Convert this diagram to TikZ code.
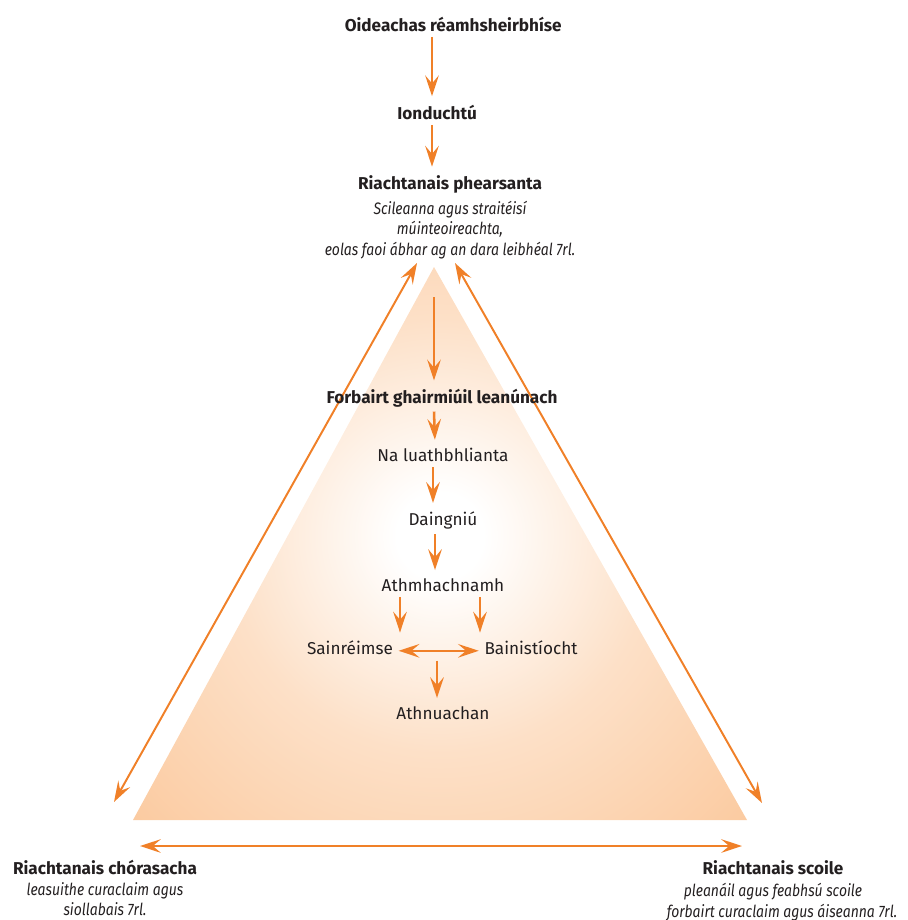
\documentclass[tikz,border=0pt]{standalone}
\usepackage{fontspec}
\setmainfont{Fira Sans}
\newfontfamily\descfont{Fira Sans Italic}[FakeStretch=0.84]
\usetikzlibrary{calc,
arrows.meta,
positioning}
\definecolor{arrorange}{RGB}{240,128,40}
\definecolor{trifill}{RGB}{251,199,154}
\definecolor{txtgray}{RGB}{35,31,32}
\pgfdeclareradialshading{tri glow}{\pgfpoint{0bp}{0bp}}{%
  color(0bp)=(white); color(2bp)=(white);
  color(10bp)=(trifill!55!white); color(21bp)=(trifill);
  color(50bp)=(trifill)}

\begin{document}
\begin{tikzpicture} [->,
    >={Stealth[length=5.2mm, width=3.4mm, inset=2mm]},
    line width = 1.8pt,
    every node/.style={font=\fontsize{12.2}{14.5}\selectfont, text=txtgray,
        inner sep = 0.8mm},
    head node/.style={font=\fontsize{12.2}{14.5}\selectfont\bfseries},
    desc node/.style={font=\fontsize{11.8}{14.6}\descfont,
        align=center, inner sep = 0pt},
    step node/.style={},
    link/.style={draw=arrorange, shorten <= 0.3mm, shorten >= 1mm},
    side/.style={<->, draw=arrorange, line width = 1.4pt}
  ]

  \useasboundingbox (0, 0) rectangle (22.7, -23);

  % shaded triangle
  \begin{scope}
    \clip (10.85, -6.675) -- (3.325, -20.5) -- (18.675, -20.5) -- cycle;
    \shade [shading = tri glow] (11.0, -13.4) circle (13.5);
  \end{scope}

  % top chain
  \coordinate (axis) at (10.8, 0);

  \node [head node] (preserv) at (11.33, -0.6) {Oideachas réamhsheirbhíse};
  \node [head node] (induct) at (10.93, -2.8) {Ionduchtú};
  \node [head node] (personal) at (11.25, -4.6) {Riachtanais phearsanta};
  \node [desc node, below = 0.06 of personal] (personald)
  {Scileanna agus straitéisí\\múinteoireachta,\\
      eolas faoi ábhar ag an dara leibhéal 7rl.};

  \draw [link] (preserv.south -| axis) -- (induct.north -| axis);
  \draw [link] (induct.south -| axis) -- (personal.north -| axis);

  % corners of the triangle
  \node [head node] (system) at (2.625, -21.675) {Riachtanais chórasacha};
  \node [desc node, below = 0.06 of system] (systemd)
  {leasuithe curaclaim agus\\siollabais 7rl.};

  \node [head node] (school) at (19.325, -21.7) {Riachtanais scoile};
  \node [desc node, below = 0.06 of school] (schoold)
  {pleanáil agus feabhsú scoile\\
      \hspace*{0.45cm}forbairt curaclaim agus áiseanna 7rl.};

  \coordinate (ltop) at (10.425, -6.575);
  \coordinate (lbot) at (2.85, -20.05);
  \coordinate (rtop) at (11.375, -6.575);
  \coordinate (rbot) at (19.05, -20.075);
  \coordinate (bl) at (3.5, -21.15);
  \coordinate (br) at (18.55, -21.15);

  \draw [side] (lbot) -- (ltop);
  \draw [side] (rtop) -- (rbot);
  \draw [side] (bl) -- (br);

  % inside the triangle
  \coordinate (apexin) at (10.85, -7.425);

  \node [head node] (cpd) at (11.05, -9.95) {Forbairt ghairmiúil leanúnach};
  \node [step node] (early) at (11.075, -11.375) {Na luathbhlianta};
  \node [step node] (consol) at (11.075, -13.0) {Daingniú};
  \node [step node] (reflect) at (11.075, -14.625) {Athmhachnamh};
  \node [step node] (special) at (8.75, -16.2) {Sainréimse};
  \node [step node] (manage) at (13.275, -16.2) {Bainistíocht};
  \node [step node] (renew) at (11.075, -17.825) {Athnuachan};

  \draw [link, shorten <= 0pt] (apexin) -- (cpd.north -| apexin);
  \draw [link, shorten <= 0pt] ($(cpd.south) + (-0.2, 0)$) -- ($(early.north) + (-0.2, 0)$);
  \draw [link] ($(early.south) + (-0.25, 0)$) -- ($(consol.north) + (-0.25, 0)$);
  \draw [link] ($(consol.south) + (-0.2, 0)$) -- ($(reflect.north) + (-0.2, 0)$);
  \draw [link] (reflect.south -| 10.0, 0) -- (special.north -| 10.0, 0);
  \draw [link] (reflect.south -| 12.0, 0) -- (manage.north -| 12.0, 0);
  \draw [<->, draw=arrorange, shorten <= 0.3mm, shorten >= 0.3mm]
  ($(special.east) + (0, -0.07)$) -- ($(manage.west) + (0, -0.07)$);
  \draw [link] ($(renew.north |- special.south) + (-0.15, 0)$)
  -- ($(renew.north) + (-0.15, 0)$);

\end{tikzpicture}
\end{document}
